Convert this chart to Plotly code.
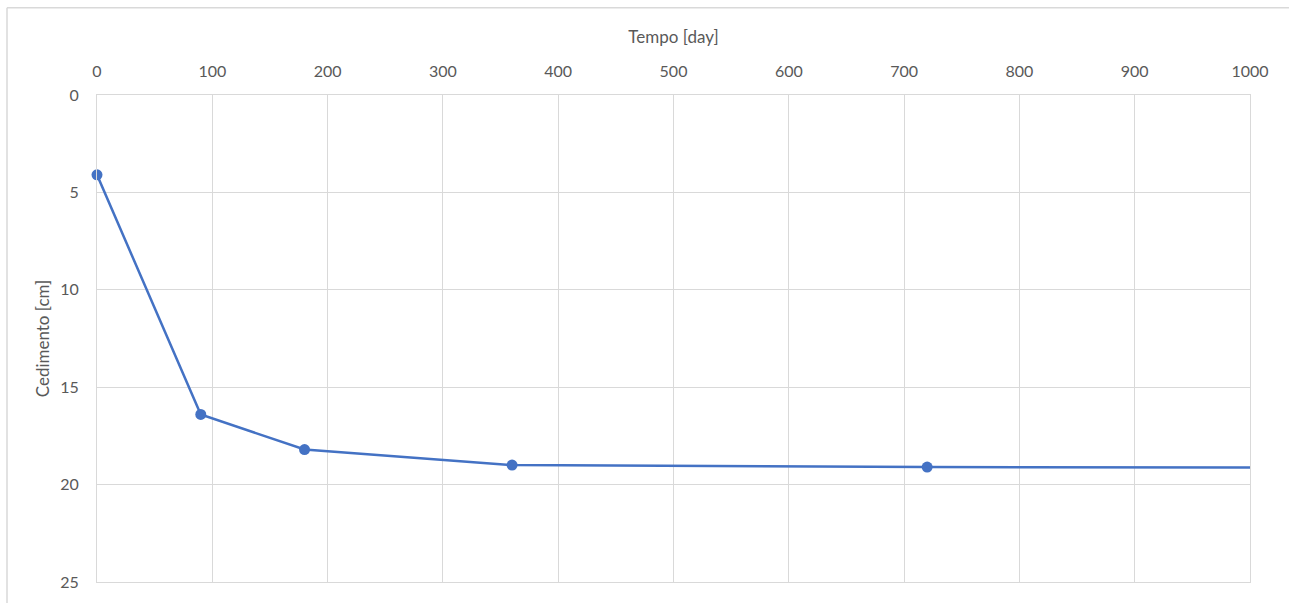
import plotly.graph_objects as go

# Data
tempo_day = [0, 90, 180, 360, 720, 1440]
cedimento_cm = [4.1, 16.4, 18.2, 19.0, 19.1, 19.15]

x_tickvals = [0, 100, 200, 300, 400, 500, 600, 700, 800, 900, 1000]
y_tickvals = [0, 5, 10, 15, 20, 25]

W, H = 1289, 603
L, R, T, B = 97, 39, 95, 17
pw, ph = W - L - R, H - T - B

fig = go.Figure()
fig.add_trace(go.Scatter(
    x=tempo_day, y=cedimento_cm, mode="lines+markers",
    line=dict(color="#4472C4", width=2.5),
    marker=dict(color="#4472C4", size=11),
    cliponaxis=False, showlegend=False,
))

tick_font = dict(family="Lato, Calibri, sans-serif", size=16, color="#595959")
title_font = dict(family="Lato, Calibri, sans-serif", size=17, color="#595959")

fig.update_layout(
    width=W, height=H,
    margin=dict(l=L, r=R, t=T, b=B),
    paper_bgcolor="white", plot_bgcolor="white",
    font=tick_font,
    xaxis=dict(
        side="top", range=[0, 1000], tickvals=x_tickvals,
        showgrid=True, gridcolor="#d9d9d9", gridwidth=1,
        showline=True, linecolor="#d9d9d9", linewidth=1, mirror=True,
        zeroline=False, ticks="outside", ticklen=11, tickcolor="rgba(0,0,0,0)",
        title=dict(text="Tempo [day]", font=title_font, standoff=12),
        tickfont=tick_font,
    ),
    yaxis=dict(
        range=[25, 0], tickvals=y_tickvals,
        showgrid=True, gridcolor="#d9d9d9", gridwidth=1,
        showline=True, linecolor="#d9d9d9", linewidth=1, mirror=True,
        zeroline=False, ticks="outside", ticklen=14, tickcolor="rgba(0,0,0,0)",
        title=dict(text="Cedimento [cm]", font=title_font, standoff=6),
        tickfont=tick_font,
    ),
)

# Outer chart-area border (top and left edges visible)
bx0 = (7 - L) / pw
by_top = 1 + (T - 7) / ph
fig.add_shape(type="line", xref="paper", yref="paper",
              x0=bx0, x1=(W + 5 - L) / pw, y0=by_top, y1=by_top,
              line=dict(color="#d9d9d9", width=1.5))
fig.add_shape(type="line", xref="paper", yref="paper",
              x0=bx0, x1=bx0, y0=by_top, y1=-(B + 5) / ph,
              line=dict(color="#d9d9d9", width=1.5))

fig.write_html("out.html")
